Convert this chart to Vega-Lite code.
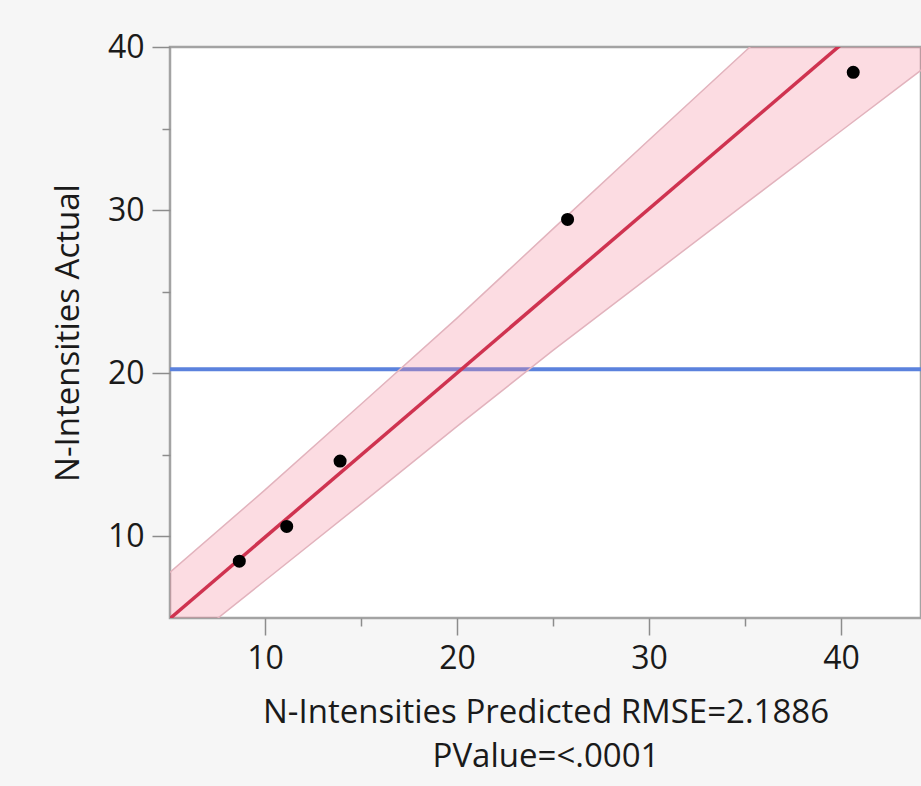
{
  "$schema": "https://vega.github.io/schema/vega-lite/v6.json",
  "width": 751,
  "height": 571,
  "autosize": {"type": "none"},
  "padding": {"left": 170, "top": 47, "right": 0, "bottom": 168},
  "background": "#f6f6f6",
  "config": {
    "font": "Open Sans",
    "view": {"stroke": "#a3a3a3", "strokeWidth": 2.5, "fill": "#ffffff"},
    "axis": {
      "domain": false,
      "grid": false,
      "tickColor": "#8c8c8c",
      "tickWidth": 1.5,
      "labelColor": "#1a1a1a",
      "titleColor": "#1a1a1a",
      "labelFont": "Open Sans",
      "titleFont": "Open Sans",
      "labelFontSize": 32,
      "titleFontSize": 33,
      "titleFontWeight": "normal",
      "labelFlush": false,
      "labelOverlap": false
    }
  },
  "datasets": {
    "points": [
      {"predicted": 8.66, "actual": 8.48},
      {"predicted": 11.13, "actual": 10.61},
      {"predicted": 13.91, "actual": 14.62},
      {"predicted": 25.76, "actual": 29.43},
      {"predicted": 40.64, "actual": 38.45}
    ],
    "fit": [
      {"predicted": 5.0, "actual": 4.92},
      {"predicted": 44.2, "actual": 44.37}
    ],
    "band": [
      {"predicted": 5, "lo": 2.6, "hi": 7.75},
      {"predicted": 10, "lo": 7.3, "hi": 12.85},
      {"predicted": 15, "lo": 12.0, "hi": 18.1},
      {"predicted": 20, "lo": 16.75, "hi": 23.38},
      {"predicted": 25, "lo": 21.4, "hi": 28.85},
      {"predicted": 30, "lo": 25.9, "hi": 34.3},
      {"predicted": 35, "lo": 30.38, "hi": 39.72},
      {"predicted": 40, "lo": 34.85, "hi": 45.1},
      {"predicted": 44.2, "lo": 38.6, "hi": 49.7}
    ],
    "mean": [{"actual": 20.25}]
  },
  "resolve": {"axis": {"x": "independent", "y": "independent"}},
  "layer": [
    {
      "data": {"name": "mean"},
      "mark": {"type": "rule", "color": "#5b82dd", "strokeWidth": 4},
      "encoding": {
        "y": {"field": "actual", "type": "quantitative", "axis": null,
              "scale": {"domain": [5, 40], "nice": false, "zero": false}}
      }
    },
    {
      "data": {"name": "band"},
      "mark": {"type": "area", "color": "#f48ca0", "opacity": 0.3, "clip": true},
      "encoding": {
        "x": {"field": "predicted", "type": "quantitative",
              "scale": {"domain": [5.05, 44.17], "nice": false, "zero": false},
              "axis": {"orient": "bottom", "values": [5, 15, 25, 35], "tickSize": 8, "labels": false, "title": null}},
        "y": {"field": "hi", "type": "quantitative",
              "scale": {"domain": [5, 40], "nice": false, "zero": false},
              "axis": {"orient": "left", "values": [15, 25, 35], "tickSize": 8, "labels": false, "title": null}},
        "y2": {"field": "lo"}
      }
    },
    {
      "data": {"name": "band"},
      "mark": {"type": "line", "color": "#e2b3bd", "strokeWidth": 1.5, "clip": true},
      "encoding": {
        "x": {"field": "predicted", "type": "quantitative", "axis": null},
        "y": {"field": "hi", "type": "quantitative", "axis": null}
      }
    },
    {
      "data": {"name": "band"},
      "mark": {"type": "line", "color": "#e2b3bd", "strokeWidth": 1.5, "clip": true},
      "encoding": {
        "x": {"field": "predicted", "type": "quantitative", "axis": null},
        "y": {"field": "lo", "type": "quantitative", "axis": null}
      }
    },
    {
      "data": {"name": "fit"},
      "mark": {"type": "line", "color": "#cf3350", "strokeWidth": 3.5, "clip": true},
      "encoding": {
        "x": {"field": "predicted", "type": "quantitative", "axis": null},
        "y": {"field": "actual", "type": "quantitative", "axis": null}
      }
    },
    {
      "data": {"name": "points"},
      "mark": {"type": "circle", "color": "#000000", "opacity": 1, "size": 170},
      "encoding": {
        "x": {"field": "predicted", "type": "quantitative",
              "axis": {"orient": "bottom", "values": [10, 20, 30, 40], "tickSize": 17, "labelPadding": 8,
                       "title": ["N-Intensities Predicted RMSE=2.1886", "PValue=<.0001"],
                       "titlePadding": 22, "titleLineHeight": 44}},
        "y": {"field": "actual", "type": "quantitative",
              "axis": {"orient": "left", "values": [10, 20, 30, 40], "tickSize": 18, "labelPadding": 8,
                       "title": "N-Intensities Actual", "titlePadding": 22}}
      }
    }
  ]
}
